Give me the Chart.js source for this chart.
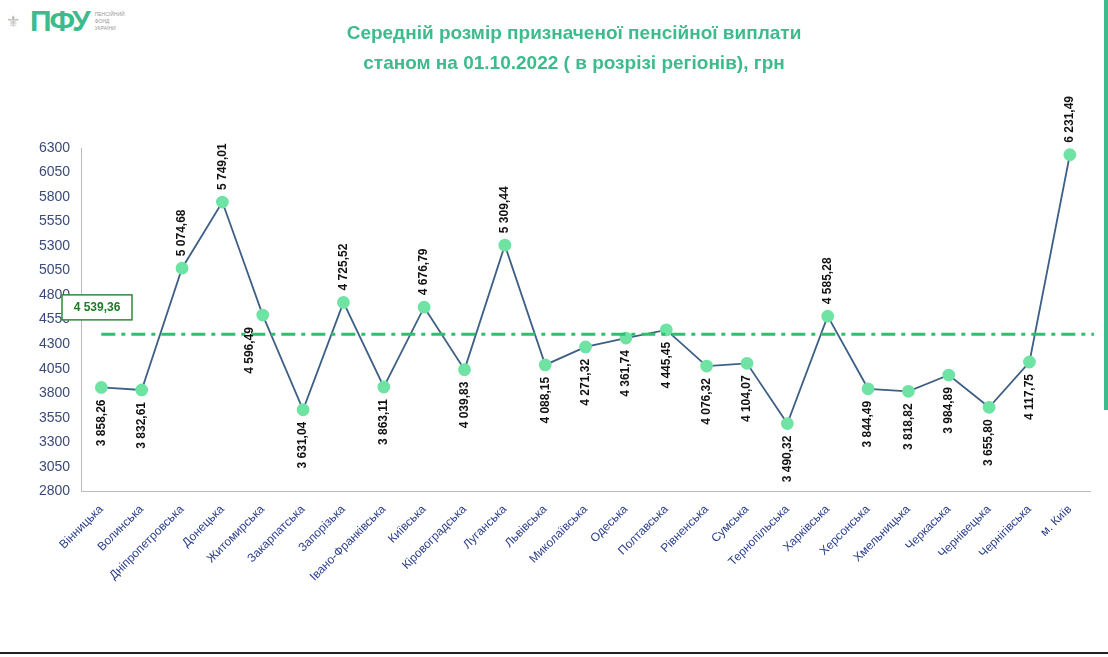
<!DOCTYPE html>
<html>
<head>
<meta charset="utf-8">
<script src="https://cdn.jsdelivr.net/npm/chart.js@4"></script>
<style>
  body { margin: 0; background: #fff; font-family: Arial, "Liberation Sans", sans-serif; }
  #wrap { position: relative; width: 1108px; height: 657px; overflow: hidden; }
  #title { position: absolute; top: 18px; left: 0; width: 1148px; text-align: center; color: #3dbb8c; font-weight: bold; font-size: 19px; line-height: 30px; z-index: 2; }
  #logo { position: absolute; top: 4px; left: 6px; display: flex; align-items: center; z-index: 2; }
  #logo .big { color: #3dbb8c; font-weight: bold; font-size: 30px; margin-left: 10px; letter-spacing: -2px; }
  #logo .small { color: #999; font-size: 5px; line-height: 7px; margin-left: 6px; }
  #chartBox { position: absolute; left: 0; top: 60px; width: 1100px; height: 527px; }
  #rbar { position: absolute; right: 0; top: 0; width: 4px; height: 410px; background: #3dbb8c; }
  #bline { position: absolute; left: 0; bottom: 3px; width: 1108px; height: 2px; background: #222; }
</style>
</head>
<body>
<div id="wrap">
  <div id="chartBox"><canvas id="c"></canvas></div>
  <div id="logo"><span style="color:#bbb;font-size:16px">⚜</span><span class="big">ПФУ</span><span class="small">ПЕНСІЙНИЙ<br>ФОНД<br>УКРАЇНИ</span></div>
  <div id="title">Середній розмір призначеної пенсійної виплати<br>станом на 01.10.2022 ( в розрізі регіонів), грн</div>
  <div id="rbar"></div>
  <div id="bline"></div>
</div>
<script>
const regions = ["Вінницька","Волинська","Дніпропетровська","Донецька","Житомирська","Закарпатська","Запорізька","Івано-Франківська","Київська","Кіровоградська","Луганська","Львівська","Миколаївська","Одеська","Полтавська","Рівненська","Сумська","Тернопільська","Харківська","Херсонська","Хмельницька","Черкаська","Чернівецька","Чернігівська","м. Київ"];
const pension = [3858.26,3832.61,5074.68,5749.01,4596.49,3631.04,4725.52,3863.11,4676.79,4039.83,5309.44,4088.15,4271.32,4361.74,4445.45,4076.32,4104.07,3490.32,4585.28,3844.49,3818.82,3984.89,3655.80,4117.75,6231.49];
const labelAbove = [2,3,6,8,10,18,24];
const avgText = "4 539,36";
const avgLineLevel = 4400; // where the dashed line sits in the picture
const yTicks = [2800,3050,3300,3550,3800,4050,4300,4550,4800,5050,5300,5550,5800,6050,6300];

const fmt = v => v.toFixed(2).replace(".", ",").replace(/\B(?=(\d{3})+(?!\d))/g, " ");

const extras = {
  id: "extras",
  afterDatasetsDraw(chart) {
    const { ctx, scales: { x, y }, chartArea } = chart;
    const ly = y.getPixelForValue(avgLineLevel);
    ctx.save();
    ctx.strokeStyle = "#2fbf6e";
    ctx.lineWidth = 3;
    ctx.setLineDash([14, 6, 4, 6]);
    ctx.beginPath();
    ctx.moveTo(x.getPixelForValue(0), ly);
    ctx.lineTo(chartArea.right + 4, ly);
    ctx.stroke();
    ctx.setLineDash([]);
    const by = y.getPixelForValue(4680);
    ctx.fillStyle = "#fff";
    ctx.fillRect(62, by - 12, 70, 25);
    ctx.strokeStyle = "#2e8b3a";
    ctx.lineWidth = 1.5;
    ctx.strokeRect(62, by - 12, 70, 25);
    ctx.fillStyle = "#1f7a2a";
    ctx.font = "bold 12px Arial";
    ctx.textAlign = "center";
    ctx.textBaseline = "middle";
    ctx.fillText(avgText, 97, by + 1);
    ctx.fillStyle = "#111";
    ctx.font = "bold 12px Arial";
    pension.forEach((v, i) => {
      const px = x.getPixelForValue(i);
      const py = y.getPixelForValue(v);
      const above = labelAbove.includes(i);
      ctx.save();
      let tx = px;
      if (i === 4) tx = px - 13;
      ctx.translate(tx, above ? py - 12 : py + 12);
      ctx.rotate(-Math.PI / 2);
      ctx.textAlign = above ? "left" : "right";
      ctx.textBaseline = "middle";
      ctx.fillText(fmt(v), 0, 0);
      ctx.restore();
    });
    ctx.restore();
  }
};

new Chart(document.getElementById("c"), {
  type: "line",
  data: {
    labels: regions,
    datasets: [{
      data: pension,
      borderColor: "#3e5f86",
      borderWidth: 1.8,
      pointBackgroundColor: "#6ee3a4",
      pointBorderColor: "#6ee3a4",
      pointRadius: 5.5,
      tension: 0
    }]
  },
  options: {
    responsive: true,
    maintainAspectRatio: false,
    animation: false,
    layout: { padding: { left: 36, right: 10, top: 88 } },
    plugins: { legend: { display: false }, tooltip: { enabled: false } },
    scales: {
      y: {
        min: 2800, max: 6300,
        afterBuildTicks: ax => { ax.ticks = yTicks.map(v => ({ value: v })); },
        grid: { display: false },
        border: { color: "#bbb" },
        ticks: { color: "#3b4a78", font: { size: 14, family: "Arial" }, callback: v => String(v) }
      },
      x: {
        offset: true,
        grid: { display: false },
        border: { color: "#bbb" },
        ticks: { color: "#2c3f8a", font: { size: 12, family: "Arial" }, maxRotation: 45, minRotation: 45, autoSkip: false }
      }
    }
  },
  plugins: [extras]
});
</script>
</body>
</html>
